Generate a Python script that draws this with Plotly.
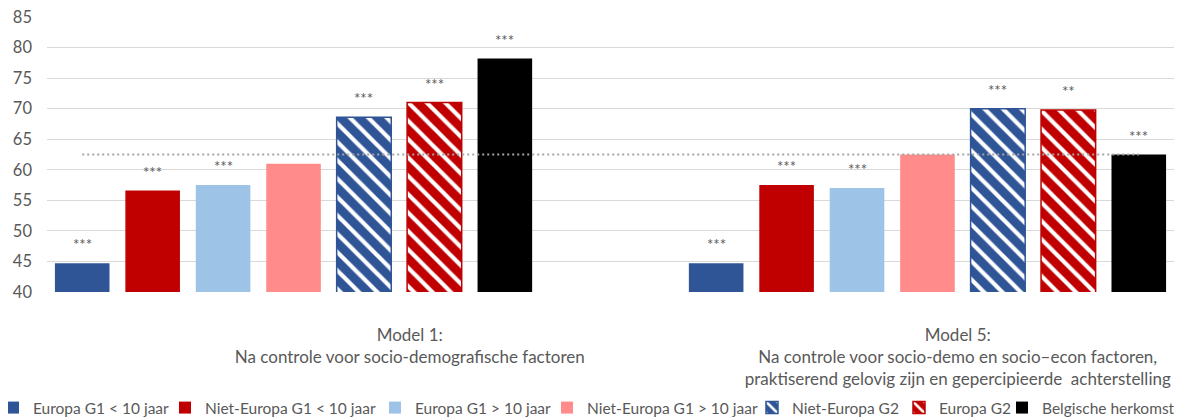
import plotly.graph_objects as go

# ---------------- data ----------------
series_names = [
    "Europa G1 < 10 jaar",
    "Niet-Europa G1 < 10 jaar",
    "Europa G1 > 10 jaar",
    "Niet-Europa G1 > 10 jaar",
    "Niet-Europa G2",
    "Europa G2",
    "Belgische herkomst",
]
model1_values = [44.7, 56.6, 57.5, 61.0, 68.6, 71.0, 78.2]
model5_values = [44.7, 57.5, 57.0, 62.5, 70.0, 69.8, 62.5]
model1_stars = ["***", "***", "***", "", "***", "***", "***"]
model5_stars = ["***", "***", "***", "", "***", "**", "***"]
category_labels = [
    "Model 1:<br>Na controle voor socio-demografische factoren",
    "Model 5:<br>Na controle voor socio-demo en socio\u2013econ factoren,<br>"
    "praktiserend gelovig zijn en gepercipieerde\u00a0 achterstelling",
]
reference_value = 62.5
y_ticks = [40, 45, 50, 55, 60, 65, 70, 75, 80, 85]

# ---------------- style ----------------
FONT = "Lato, Carlito, sans-serif"
GREY_TXT = "#595959"
colors = ["#2F5597", "#C00000", "#9DC3E6", "#FF8B8B", "#2F5597", "#C00000", "#000000"]
patterned = [False, False, False, False, True, True, False]

# the page body adds an 8 px margin, so the figure is 8 px smaller than the window
OFF = 8
W, H = 1194 - OFF, 418 - OFF
ML, MT = 47 - OFF, 17 - OFF
plot_w, plot_h = 1127, 275
MR = W - ML - plot_w
MB = H - MT - plot_h

# slot layout: 16 slots, model 1 uses slots 0-6, model 5 uses slots 9-15
left_x = [i + 0.5 for i in range(len(series_names))]
right_x = [i + 9.5 for i in range(len(series_names))]
category_tick_pos = [5.15, 12.93]

# where each legend text starts (page px) in the reference
legend_text_start_px = [33, 205, 415, 587, 792, 939, 1042]

fig = go.Figure()

for i, name in enumerate(series_names):
    marker = dict(color=colors[i])
    if patterned[i]:
        marker["pattern"] = dict(shape="\\", fgcolor="white", bgcolor=colors[i],
                                 size=13, solidity=0.32, fillmode="replace")
        marker["line"] = dict(color=colors[i], width=1.5)
    else:
        marker["line"] = dict(width=0)
    fig.add_trace(go.Bar(
        x=[left_x[i], right_x[i]],
        y=[model1_values[i], model5_values[i]],
        width=0.775,
        name=name,
        marker=marker,
        legend="legend" if i == 0 else f"legend{i+1}",
        hoverinfo="name+y",
    ))

# dotted reference line
fig.add_trace(go.Scatter(
    x=[left_x[0], right_x[-1]],
    y=[reference_value, reference_value],
    mode="lines",
    line=dict(color="#A6A6A6", width=2, dash="2px,3px"),
    showlegend=False,
    hoverinfo="skip",
))

# significance stars
annotations = []
for i in range(len(series_names)):
    for xv, yv, s in ((left_x[i], model1_values[i], model1_stars[i]),
                      (right_x[i], model5_values[i], model5_stars[i])):
        if s:
            annotations.append(dict(
                x=xv, y=yv, text=s, showarrow=False, xref="x", yref="y",
                yanchor="bottom", yshift=8,
                font=dict(family=FONT, size=15, color=GREY_TXT),
            ))

layout = dict(
    width=W, height=H,
    margin=dict(l=ML, r=MR, t=MT, b=MB, pad=0, autoexpand=False),
    paper_bgcolor="white", plot_bgcolor="white",
    barmode="overlay",
    font=dict(family=FONT, size=16, color=GREY_TXT),
    xaxis=dict(
        range=[0, 16], tickmode="array", tickvals=category_tick_pos,
        ticktext=category_labels, showgrid=False, zeroline=False, showline=False,
        ticks="", ticklabelstandoff=31, automargin=False,
        tickfont=dict(family=FONT, size=17, color=GREY_TXT),
        fixedrange=True,
    ),
    yaxis=dict(
        range=[40, 85.001], tickmode="array", tickvals=y_ticks,
        showgrid=True, gridcolor="#D9D9D9", gridwidth=1, automargin=False,
        zeroline=False, showline=False, ticks="", ticklabelstandoff=14,
        ticklabeloverflow="allow",
        tickfont=dict(family=FONT, size=16.5, color=GREY_TXT),
        fixedrange=True,
    ),
    annotations=annotations,
    showlegend=True,
)

legend_y = (MT + plot_h - (408 - OFF)) / plot_h
for i, t in enumerate(legend_text_start_px):
    key = "legend" if i == 0 else f"legend{i+1}"
    layout[key] = dict(
        orientation="h", x=(t - OFF - 40 - ML) / plot_w, xanchor="left",
        y=legend_y, yanchor="middle",
        font=dict(family=FONT, size=15.5, color=GREY_TXT),
        bgcolor="rgba(0,0,0,0)", borderwidth=0,
        itemwidth=30,
    )

fig.update_layout(**layout)
fig.write_html("out.html")
